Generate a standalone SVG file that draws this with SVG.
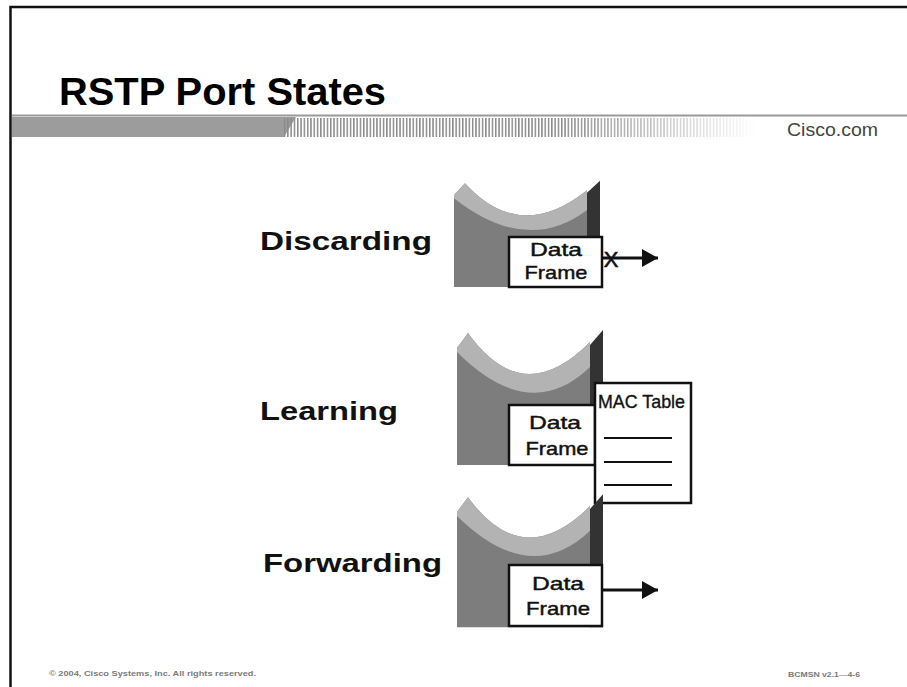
<svg xmlns="http://www.w3.org/2000/svg" xmlns:xlink="http://www.w3.org/1999/xlink" width="907" height="687" viewBox="0 0 907 687">
  <style>
    .sans { font-family: "Liberation Sans", Arial, sans-serif; }
    .title { font-size: 38px; font-weight: bold; fill: #000; }
    .state { font-size: 25px; font-weight: bold; fill: #111; }
    .frame-text { font-size: 19px; fill: #111; stroke: #111; stroke-width: 0.45; text-anchor: middle; }
    .mac-text { font-size: 19px; fill: #111; stroke: #111; stroke-width: 0.35; }
    .footer { font-size: 8px; font-weight: bold; fill: #7a7a7a; }
    .brand { font-size: 18px; fill: #444; }
    .box { fill: #fff; stroke: #111; stroke-width: 2.5; }
    .rule { stroke: #111; stroke-width: 2; }
    .body { fill: #7d7d7d; }
    .rim { fill: #b3b3b3; }
    .edge { fill: #333; }
    .wire { stroke: #111; stroke-width: 2.8; fill: none; }
  </style>
  <defs>
    <!-- switch port: body with curved rim and dark side edge -->
    <g id="port">
      <path class="body" d="M0,0 L11,-15 Q66,62 133,-6 L133,117 L0,117 Z"/>
      <path class="rim" d="M0,0 L11,-15 Q66,62 133,-6 L133,19 Q73,77 0,4 Z"/>
      <path class="edge" d="M133,-3 L146,-18 L146,117 L133,117 Z"/>
    </g>
    <pattern id="stripes" patternUnits="userSpaceOnUse" width="3.3" height="20">
      <rect x="0" y="0" width="1.5" height="20" fill="#8a8a8a"/>
    </pattern>
    <linearGradient id="fade" gradientUnits="userSpaceOnUse" x1="560" y1="0" x2="755" y2="0">
      <stop offset="0" stop-color="#fff" stop-opacity="0"/>
      <stop offset="1" stop-color="#fff" stop-opacity="1"/>
    </linearGradient>
    <marker id="head" markerUnits="userSpaceOnUse" markerWidth="17" markerHeight="18" refX="16" refY="9" orient="auto">
      <path d="M0,0 L16,9 L0,18 Z" fill="#111"/>
    </marker>
  </defs>

  <rect width="907" height="687" fill="#fff"/>

  <!-- slide frame -->
  <path d="M907,7 H10.5 V687" fill="none" stroke="#111" stroke-width="2.5"/>

  <!-- header -->
  <g id="header">
    <text class="sans title" x="59" y="105" textLength="327" lengthAdjust="spacingAndGlyphs">RSTP Port States</text>
    <rect x="12" y="114.5" width="895" height="2" fill="#9a9a9a"/>
    <polygon points="12,117 296,117 284,137 12,137" fill="#9c9c9c"/>
    <rect x="284" y="118" width="472" height="19" fill="url(#stripes)"/>
    <rect x="284" y="117.5" width="474" height="20" fill="url(#fade)"/>
    <text class="sans brand" x="787" y="136" textLength="91" lengthAdjust="spacingAndGlyphs">Cisco.com</text>
  </g>

  <!-- Discarding -->
  <g id="discarding">
    <text class="sans state" x="260" y="250" textLength="172" lengthAdjust="spacingAndGlyphs">Discarding</text>
    <use xlink:href="#port" transform="translate(454,195) scale(1,0.786)"/>
    <rect class="box" x="509" y="237" width="93" height="50"/>
    <text class="sans frame-text" x="556" y="256" textLength="52" lengthAdjust="spacingAndGlyphs">Data</text>
    <text class="sans frame-text" x="556" y="279" textLength="63" lengthAdjust="spacingAndGlyphs">Frame</text>
  </g>

  <!-- Learning -->
  <g id="learning">
    <text class="sans state" x="260" y="420" textLength="138" lengthAdjust="spacingAndGlyphs">Learning</text>
    <use xlink:href="#port" transform="translate(457,348)"/>
    <rect class="box" x="509" y="405" width="86" height="60"/>
    <text class="sans frame-text" x="555" y="429" textLength="52" lengthAdjust="spacingAndGlyphs">Data</text>
    <text class="sans frame-text" x="557" y="455" textLength="63" lengthAdjust="spacingAndGlyphs">Frame</text>
  </g>

  <!-- MAC table -->
  <g id="mac-table">
    <rect class="box" x="595" y="383" width="96" height="120" stroke-width="2.2"/>
    <text class="sans mac-text" x="598" y="408" textLength="87" lengthAdjust="spacingAndGlyphs">MAC Table</text>
    <line class="rule" x1="604" y1="438" x2="672" y2="438"/>
    <line class="rule" x1="604" y1="462" x2="672" y2="462"/>
    <line class="rule" x1="604" y1="485" x2="672" y2="485"/>
  </g>

  <!-- Forwarding -->
  <g id="forwarding">
    <text class="sans state" x="263" y="572" textLength="179" lengthAdjust="spacingAndGlyphs">Forwarding</text>
    <use xlink:href="#port" transform="translate(457,512) scale(1,0.985)"/>
    <rect class="box" x="509" y="565" width="93" height="61"/>
    <text class="sans frame-text" x="558" y="590" textLength="52" lengthAdjust="spacingAndGlyphs">Data</text>
    <text class="sans frame-text" x="558" y="615" textLength="64" lengthAdjust="spacingAndGlyphs">Frame</text>
  </g>

  <!-- connectors -->
  <g id="connectors">
    <line class="wire" x1="602" y1="258" x2="658" y2="258" marker-end="url(#head)"/>
    <text class="sans" x="611" y="267" font-size="22" fill="#111" stroke="#111" stroke-width="0.6" text-anchor="middle">X</text>
    <line class="wire" x1="602" y1="590" x2="658" y2="590" marker-end="url(#head)"/>
  </g>

  <!-- footer -->
  <g id="footer">
    <text class="sans footer" x="49" y="676" textLength="207" lengthAdjust="spacingAndGlyphs">© 2004, Cisco Systems, Inc. All rights reserved.</text>
    <text class="sans footer" x="788" y="677" textLength="72" lengthAdjust="spacingAndGlyphs">BCMSN v2.1—4-6</text>
  </g>
</svg>
